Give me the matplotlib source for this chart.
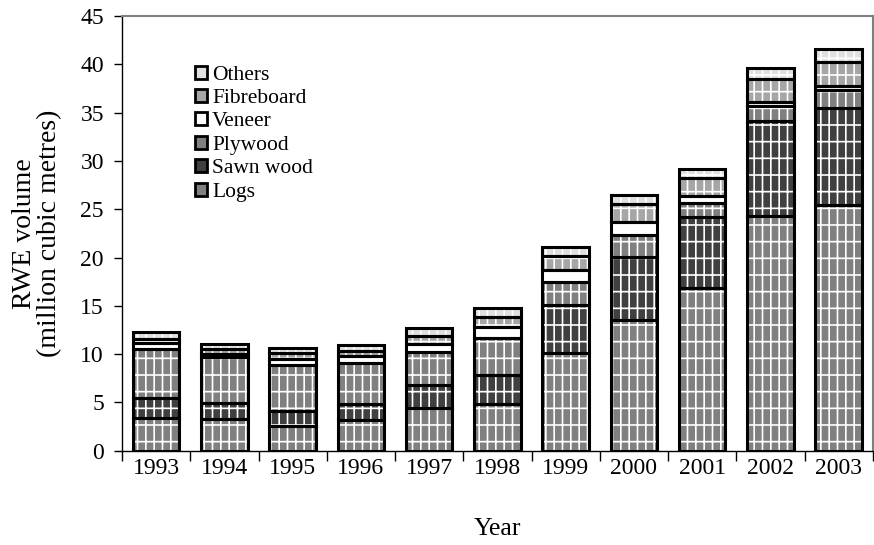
import matplotlib
matplotlib.use("Agg")
import matplotlib.pyplot as plt
import numpy as np
from matplotlib.patches import Patch

YEARS = ["1993", "1994", "1995", "1996", "1997", "1998", "1999", "2000", "2001", "2002", "2003"]

LOGS = [3.42, 3.30, 2.52, 3.18, 4.45, 4.80, 10.11, 13.53, 16.80, 24.30, 25.43]
SAWN_WOOD = [2.00, 1.67, 1.58, 1.65, 2.38, 3.04, 4.94, 6.55, 7.39, 9.86, 10.05]
PLYWOOD = [5.11, 4.76, 4.80, 4.27, 3.37, 3.86, 2.41, 2.28, 1.48, 1.52, 1.86]
VENEER = [0.57, 0.27, 0.60, 0.73, 0.88, 1.07, 1.24, 1.31, 0.70, 0.45, 0.41]
FIBREBOARD = [0.46, 0.50, 0.58, 0.47, 0.82, 1.03, 1.45, 1.87, 1.86, 2.31, 2.49]
OTHERS = [0.74, 0.50, 0.52, 0.64, 0.77, 0.97, 0.95, 0.93, 0.93, 1.14, 1.31]

SERIES = [
	("Logs", LOGS, "#808080", "||-"),
	("Sawn wood", SAWN_WOOD, "#404040", "||-"),
	("Plywood", PLYWOOD, "#808080", "||-"),
	("Veneer", VENEER, "#ffffff", ""),
	("Fibreboard", FIBREBOARD, "#a6a6a6", "||-"),
	("Others", OTHERS, "#e0e0e0", "||-"),
]

plt.rcParams["font.family"] = ["Liberation Serif", "DejaVu Serif"]
plt.rcParams["font.size"] = 17
plt.rcParams["hatch.linewidth"] = 1.2

fig = plt.figure(figsize=(8.74, 5.45), dpi=100)
ax = fig.add_axes([0.1396, 0.173, 0.859, 0.7976])

x = np.arange(len(YEARS))
bar_width = 0.68
bottom = np.zeros(len(YEARS))
for name, values, color, hatch in SERIES:
	values = np.array(values)
	ax.bar(x, values, bottom=bottom, width=bar_width, color=color,
		edgecolor="white", linewidth=0, hatch=hatch, zorder=2)
	ax.bar(x, values, bottom=bottom, width=bar_width, fill=False,
		edgecolor="black", linewidth=2.2, zorder=3)
	bottom += values

ax.set_xlim(-0.5, len(YEARS) - 0.5)
ax.set_ylim(0, 45)
ax.set_yticks(range(0, 46, 5))
ax.set_xticks(x)
ax.set_xticklabels(YEARS)
ax.tick_params(axis="x", which="major", length=0, pad=5, labelsize=17)
ax.set_xticks(np.arange(-0.5, len(YEARS), 1.0), minor=True)
ax.tick_params(axis="x", which="minor", length=7, width=1, direction="out")
ax.tick_params(axis="y", length=6, width=1, direction="out", pad=7, labelsize=17)

for side in ("top", "right"):
	ax.spines[side].set_color("#808080")
	ax.spines[side].set_linewidth(1.5)
for side in ("left", "bottom"):
	ax.spines[side].set_color("black")
	ax.spines[side].set_linewidth(1)

ax.set_ylabel("RWE volume\n(million cubic metres)", fontsize=20, labelpad=13, linespacing=1.0)
ax.set_xlabel("Year", fontsize=18.5, labelpad=28)

handles = [Patch(facecolor=color, edgecolor="black", linewidth=2, label=name)
	for name, _, color, _ in SERIES][::-1]
ax.legend(handles=handles, loc="upper left", bbox_to_anchor=(0.097, 0.886),
	frameon=False, fontsize=15.5, handlelength=0.55, handleheight=0.55,
	handletextpad=0.25, labelspacing=0.2, borderpad=0, borderaxespad=0)

fig.savefig("out.png", dpi=100)
